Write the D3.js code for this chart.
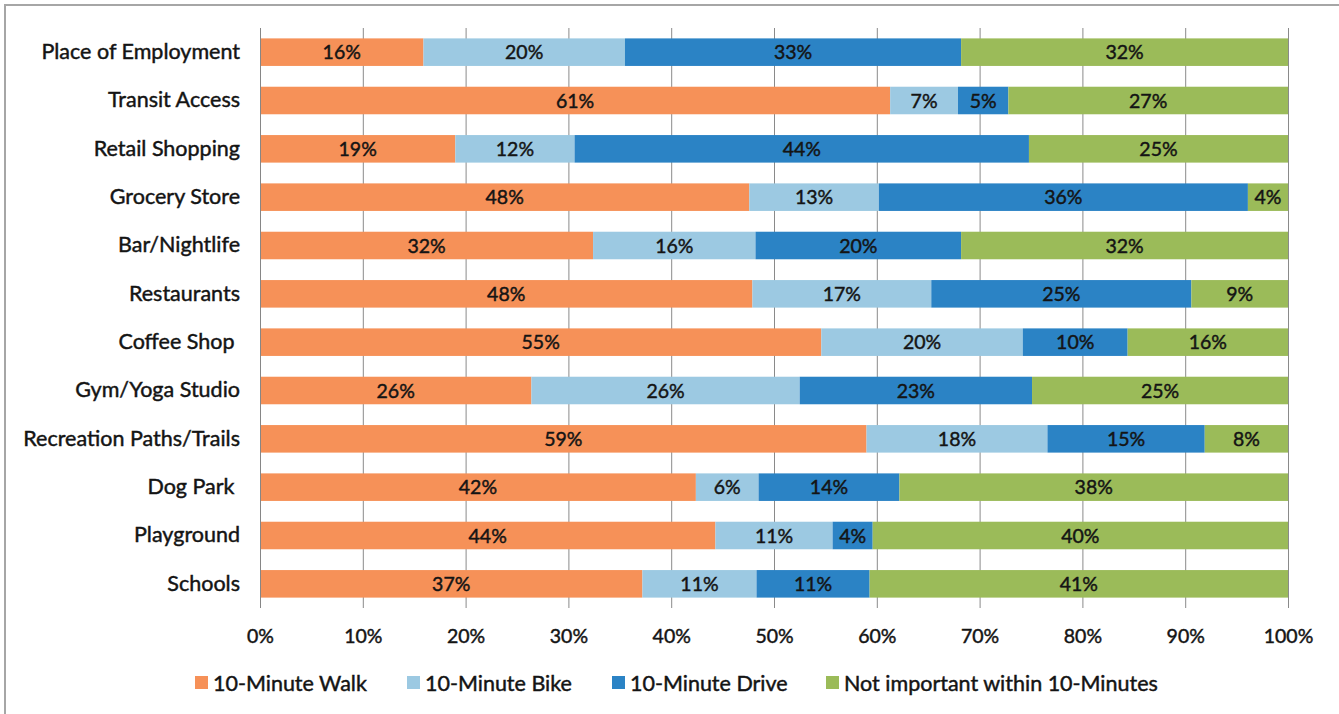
<!DOCTYPE html>
<html>
<head>
<meta charset="utf-8">
<script src="https://cdn.jsdelivr.net/npm/d3@7"></script>
<style>
  html, body { margin: 0; padding: 0; background: #fff; }
  svg { display: block; font-family: Lato, "Open Sans", sans-serif; }
  text { white-space: pre; }
</style>
</head>
<body>
<svg id="chart" width="1339" height="714"></svg>
<script>
// Destinations, top to bottom
const categories = [
  "Place of Employment", "Transit Access", "Retail Shopping", "Grocery Store",
  "Bar/Nightlife", "Restaurants", "Coffee Shop ", "Gym/Yoga Studio",
  "Recreation Paths/Trails", "Dog Park ", "Playground", "Schools"
];
const seriesNames = ["10-Minute Walk", "10-Minute Bike", "10-Minute Drive", "Not important within 10-Minutes"];
// Share of respondents (%) per destination
const walk     = [15.9, 61.3, 19.0, 47.6, 32.4, 47.9, 54.6, 26.4, 59.0, 42.4, 44.3, 37.2];
const bike     = [19.6,  6.6, 11.6, 12.6, 15.8, 17.4, 19.6, 26.1, 17.6,  6.1, 11.4, 11.1];
const drive    = [32.7,  4.9, 44.2, 35.9, 20.0, 25.3, 10.2, 22.6, 15.3, 13.7,  3.9, 11.0];
const notImp   = [31.8, 27.2, 25.2,  3.9, 31.8,  9.4, 15.6, 24.9,  8.1, 37.8, 40.4, 40.7];
const xTicks = [0, 10, 20, 30, 40, 50, 60, 70, 80, 90, 100];
const colors = ["#F69158", "#9CC9E2", "#2B83C5", "#9BBB59"];

const seriesValues = [walk, bike, drive, notImp];
const rows = categories.map((c, i) => {
  const r = { category: c };
  seriesNames.forEach((s, k) => { r[s] = seriesValues[k][i]; });
  return r;
});

const svg = d3.select("#chart");
const margin = { left: 260, right: 51, top: 28, bottom: 106 };
const W = 1339, H = 714;
const ink = "#141414";

// slightly heavier text strokes
function heavy(sel) {
  sel.attr("fill", ink).attr("stroke", ink).attr("stroke-width", 0.45).attr("font-family", "Lato, sans-serif");
}

// outer frame
svg.append("rect")
  .attr("x", 5).attr("y", 5).attr("width", W + 10).attr("height", H + 10)
  .attr("fill", "#fff").attr("stroke", "#a6a6a6").attr("stroke-width", 2);

const x = d3.scaleLinear().domain([0, 100]).range([margin.left, W - margin.right]);
const y = d3.scaleBand().domain(categories).range([margin.top, H - margin.bottom]).paddingInner(0.43).paddingOuter(0.215);

// vertical gridlines
svg.append("g")
  .selectAll("line").data(xTicks.slice(1)).join("line")
  .attr("x1", d => x(d) + 0.5).attr("x2", d => x(d) + 0.5)
  .attr("y1", margin.top).attr("y2", H - margin.bottom)
  .attr("stroke", "#8a8a8a").attr("stroke-width", 1);

// x tick labels
const xAxis = svg.append("g")
  .attr("transform", `translate(0,${H - margin.bottom})`)
  .call(d3.axisBottom(x).tickValues(xTicks).tickFormat(d => d + "%").tickSize(0).tickPadding(21));
xAxis.select(".domain").remove();
xAxis.selectAll("text").attr("font-size", 19.5).call(heavy);

// stacked bars
const stack = d3.stack().keys(seriesNames)(rows);
const layers = svg.append("g").selectAll("g").data(stack).join("g")
  .attr("fill", (d, i) => colors[i]);
layers.selectAll("rect").data(d => d).join("rect")
  .attr("x", d => x(d[0]))
  .attr("width", d => x(d[1]) - x(d[0]))
  .attr("y", d => y(d.data.category))
  .attr("height", y.bandwidth());

// value labels
const fmt = v => Math.round(v) + "%";
layers.selectAll("text").data(d => d.map(p => ({ p, key: d.key }))).join("text")
  .attr("x", d => (x(d.p[0]) + x(d.p[1])) / 2)
  .attr("y", d => y(d.p.data.category) + y.bandwidth() / 2)
  .attr("dy", "0.36em")
  .attr("text-anchor", "middle")
  .attr("font-size", 19.5)
  .call(heavy)
  .text(d => fmt(d.p.data[d.key]));

// category axis
const yAxis = svg.append("g")
  .attr("transform", `translate(${margin.left},0)`)
  .call(d3.axisLeft(y).tickSize(0).tickPadding(20));
yAxis.select(".domain").attr("stroke", "#868686").attr("d", `M0.5,${margin.top}V${H - margin.bottom}`);
yAxis.selectAll("text").attr("font-size", 21.5).call(heavy);

// legend
const legendX = [195, 407, 612, 826];
const legend = svg.append("g").selectAll("g").data(seriesNames).join("g")
  .attr("transform", (d, i) => `translate(${legendX[i]},683)`);
legend.append("rect").attr("x", 0).attr("y", -7).attr("width", 13).attr("height", 13)
  .attr("fill", (d, i) => colors[i]);
legend.append("text").attr("x", 18).attr("y", 0).attr("dy", "0.36em")
  .attr("font-size", 21.5).call(heavy).text(d => d);
</script>
</body>
</html>
